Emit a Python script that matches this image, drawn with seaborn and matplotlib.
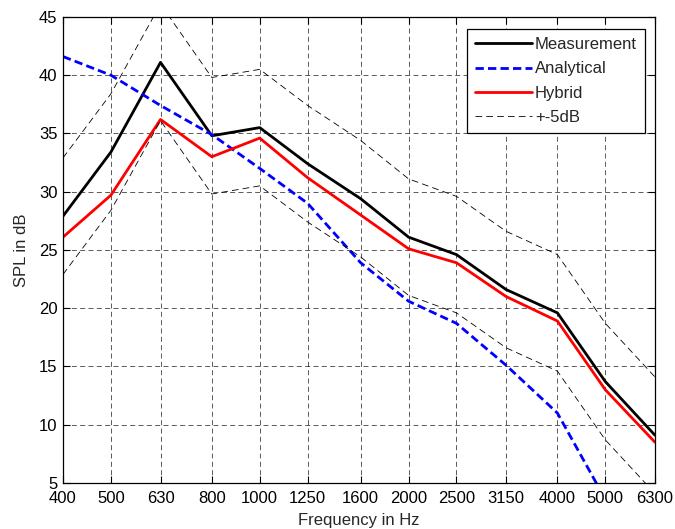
import numpy as np
import pandas as pd
import matplotlib
matplotlib.use("Agg")
import matplotlib.pyplot as plt
import seaborn as sns
from matplotlib.ticker import NullLocator

freqs = [400, 500, 630, 800, 1000, 1250, 1600, 2000, 2500, 3150, 4000, 5000, 6300]
measurement = [27.9, 33.4, 41.1, 34.8, 35.5, 32.4, 29.4, 26.1, 24.6, 21.6, 19.6, 13.7, 9.1]
analytical = [41.6, 40.0, 37.4, 34.9, 32.0, 29.0, 23.9, 20.6, 18.7, 15.1, 11.0, 3.6, -2.0]
hybrid = [26.1, 29.7, 36.2, 33.0, 34.6, 31.2, 28.0, 25.1, 23.9, 21.0, 18.9, 13.0, 8.5]
tol_db = 5

df = pd.DataFrame({"freq": freqs, "meas": measurement, "ana": analytical, "hyb": hybrid})
df["upper"] = df["meas"] + tol_db
df["lower"] = df["meas"] - tol_db

sns.set_theme(style="white")
plt.rcParams["font.family"] = ["Liberation Sans", "DejaVu Sans"]
plt.rcParams["font.size"] = 12

fig = plt.figure(figsize=(6.75, 5.29), dpi=100)
ax = fig.add_axes([0.0933, 0.087, 0.877, 0.881])

sns.lineplot(data=df, x="freq", y="meas", ax=ax, color="black", lw=2, label="Measurement")
sns.lineplot(data=df, x="freq", y="ana", ax=ax, color="blue", lw=2, ls=(0, (3, 1.5)), label="Analytical")
sns.lineplot(data=df, x="freq", y="hyb", ax=ax, color="red", lw=2, label="Hybrid")
sns.lineplot(data=df, x="freq", y="upper", ax=ax, color="black", lw=0.6, ls=(0, (8, 5)), label="+-5dB")
sns.lineplot(data=df, x="freq", y="lower", ax=ax, color="black", lw=0.6, ls=(0, (8, 5)))

ax.set_xscale("log")
ax.set_xlim(400, 6300)
ax.set_ylim(5, 45)
ax.set_xticks(freqs)
ax.set_xticklabels([str(f) for f in freqs])
ax.xaxis.set_minor_locator(NullLocator())
ax.set_yticks(range(5, 46, 5))

ax.grid(True, which="major", color="black", ls=(0, (6, 4)), lw=0.6, alpha=0.75)
ax.tick_params(direction="in", length=5, width=0.8, colors="black", labelsize=12,
               top=True, right=True, bottom=True, left=True)
ax.tick_params(axis="x", pad=6)
ax.tick_params(axis="y", pad=4)
for s in ax.spines.values():
    s.set_color("black")
    s.set_linewidth(0.9)

ax.set_xlabel("Frequency in Hz", fontsize=12, labelpad=5)
ax.set_ylabel("SPL in dB", fontsize=12, labelpad=7)

leg = ax.legend(loc="upper right", bbox_to_anchor=(0.992, 0.985), fontsize=12, frameon=True,
                fancybox=False, edgecolor="black", framealpha=1, borderpad=0.5,
                handlelength=3.4, handletextpad=0.2, labelspacing=0.55, borderaxespad=0.3)
leg.get_frame().set_linewidth(0.9)

fig.savefig("out.png", dpi=100)
